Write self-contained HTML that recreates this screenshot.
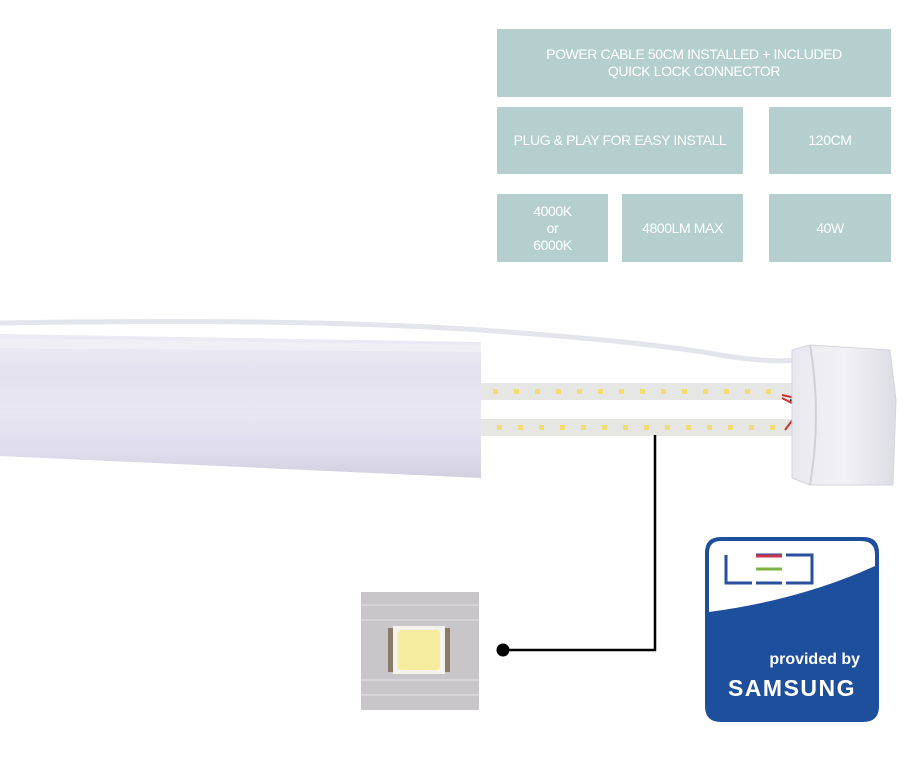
<!DOCTYPE html>
<html><head><style>
body{margin:0;width:920px;height:758px;background:#fff;position:relative;overflow:hidden;font-family:"Liberation Sans",sans-serif}
.b{position:absolute;background:#b5cfcf;color:#fff;display:flex;align-items:center;justify-content:center;text-align:center;font-size:14px;line-height:17px;letter-spacing:-0.4px}
</style></head><body>
<div class="b" style="left:497px;top:29px;width:394px;height:68px">POWER CABLE 50CM INSTALLED + INCLUDED<br>QUICK LOCK CONNECTOR</div>
<div class="b" style="left:497px;top:107px;width:246px;height:67px">PLUG &amp; PLAY FOR EASY INSTALL</div>
<div class="b" style="left:769px;top:107px;width:122px;height:67px">120CM</div>
<div class="b" style="left:497px;top:194px;width:111px;height:68px">4000K<br>or<br>6000K</div>
<div class="b" style="left:622px;top:194px;width:121px;height:68px">4800LM MAX</div>
<div class="b" style="left:769px;top:194px;width:122px;height:68px">40W</div>

<svg style="position:absolute;left:0;top:0" width="920" height="758">
<defs>
<linearGradient id="t" x1="0" y1="0" x2="0" y2="1">
<stop offset="0" stop-color="#eceaf3"/><stop offset="0.3" stop-color="#e4e2ef"/><stop offset="0.55" stop-color="#e9e7f3"/><stop offset="0.85" stop-color="#dddbea"/><stop offset="1" stop-color="#d2d0e0"/></linearGradient>
<linearGradient id="c" x1="0" y1="0" x2="1" y2="0">
<stop offset="0" stop-color="#e8e8ee"/><stop offset="0.5" stop-color="#f2f2f6"/><stop offset="1" stop-color="#dcdce4"/></linearGradient>
</defs>
<path d="M0 323 Q300 318 480 330 Q650 342 720 355 Q770 363 795 360" stroke="#e4e4ec" stroke-width="5" fill="none"/>
<path d="M0 334 L481 342 L481 478 L0 456 Z" fill="url(#t)"/>
<path d="M0 338 L481 345 L481 352 L0 348 Z" fill="#f0eff6"/>
<rect x="481" y="383" width="315" height="17" fill="#e6e6e4"/>
<rect x="481" y="419" width="315" height="17" fill="#e6e6e4"/>
<g fill="#f0dc70">
<rect x="493" y="389" width="5" height="5"/><rect x="514" y="389" width="5" height="5"/><rect x="535" y="389" width="5" height="5"/><rect x="556" y="389" width="5" height="5"/><rect x="577" y="389" width="5" height="5"/><rect x="598" y="389" width="5" height="5"/><rect x="619" y="389" width="5" height="5"/><rect x="640" y="389" width="5" height="5"/><rect x="661" y="389" width="5" height="5"/><rect x="682" y="389" width="5" height="5"/><rect x="703" y="389" width="5" height="5"/><rect x="724" y="389" width="5" height="5"/><rect x="745" y="389" width="5" height="5"/><rect x="766" y="389" width="5" height="5"/>
<rect x="497" y="425" width="5" height="5"/><rect x="518" y="425" width="5" height="5"/><rect x="539" y="425" width="5" height="5"/><rect x="560" y="425" width="5" height="5"/><rect x="581" y="425" width="5" height="5"/><rect x="602" y="425" width="5" height="5"/><rect x="623" y="425" width="5" height="5"/><rect x="644" y="425" width="5" height="5"/><rect x="665" y="425" width="5" height="5"/><rect x="686" y="425" width="5" height="5"/><rect x="707" y="425" width="5" height="5"/><rect x="728" y="425" width="5" height="5"/><rect x="749" y="425" width="5" height="5"/><rect x="770" y="425" width="5" height="5"/>
</g>
<path d="M782 395 L805 400 M782 398 L805 410 M785 430 L800 410" stroke="#c33" stroke-width="2"/>
<path d="M790 400 L805 405" stroke="#222" stroke-width="2"/>
<path d="M792 350 L810 345 L890 350 L896 400 L893 485 L810 485 L792 478 Z" fill="url(#c)" stroke="#d4d4dc"/>
<path d="M810 345 Q822 415 810 485" stroke="#d0d0d8" stroke-width="2" fill="none"/>
<path d="M655 435 L655 650 L503 650" stroke="#000" stroke-width="2.5" fill="none"/>
<circle cx="503" cy="650" r="6.5" fill="#000"/>
<rect x="361" y="592" width="118" height="118" fill="#c8c6c8"/>
<g stroke="#d6d4d6" stroke-width="2"><line x1="361" y1="605" x2="479" y2="605"/><line x1="361" y1="620" x2="479" y2="620"/><line x1="361" y1="680" x2="479" y2="680"/><line x1="361" y1="695" x2="479" y2="695"/></g>
<rect x="388" y="628" width="62" height="44" fill="#8a7a6a"/>
<rect x="393" y="626" width="52" height="48" fill="#f4f2ec"/>
<rect x="398" y="630" width="42" height="40" rx="3" fill="#f5eca0"/>
<path d="M721 537 H863 Q879 537 879 553 V706 Q879 722 863 722 H721 Q705 722 705 706 V553 Q705 537 721 537 Z" fill="#1e4f9c"/>
<path d="M709 553 Q709 541 721 541 H861 Q875 541 875 555 V566 Q800 600 709 612 Z" fill="#fff"/>
<path d="M726 555 V583 H752 M756 555 H782 M756 583 H782 M786 555 H812 V583 H786" stroke="#2a4f9e" stroke-width="3" fill="none"/>
<line x1="756" y1="556" x2="782" y2="556" stroke="#c8354a" stroke-width="3"/>
<line x1="756" y1="569" x2="782" y2="569" stroke="#7cb342" stroke-width="3"/>
<text x="860" y="664" fill="#fff" font-family="Liberation Sans" font-weight="bold" font-size="16" text-anchor="end">provided by</text>
<text x="792" y="696" fill="#fff" font-family="Liberation Sans" font-weight="bold" font-size="23" text-anchor="middle" letter-spacing="1.5">SAMSUNG</text>
</svg>
</body></html>
